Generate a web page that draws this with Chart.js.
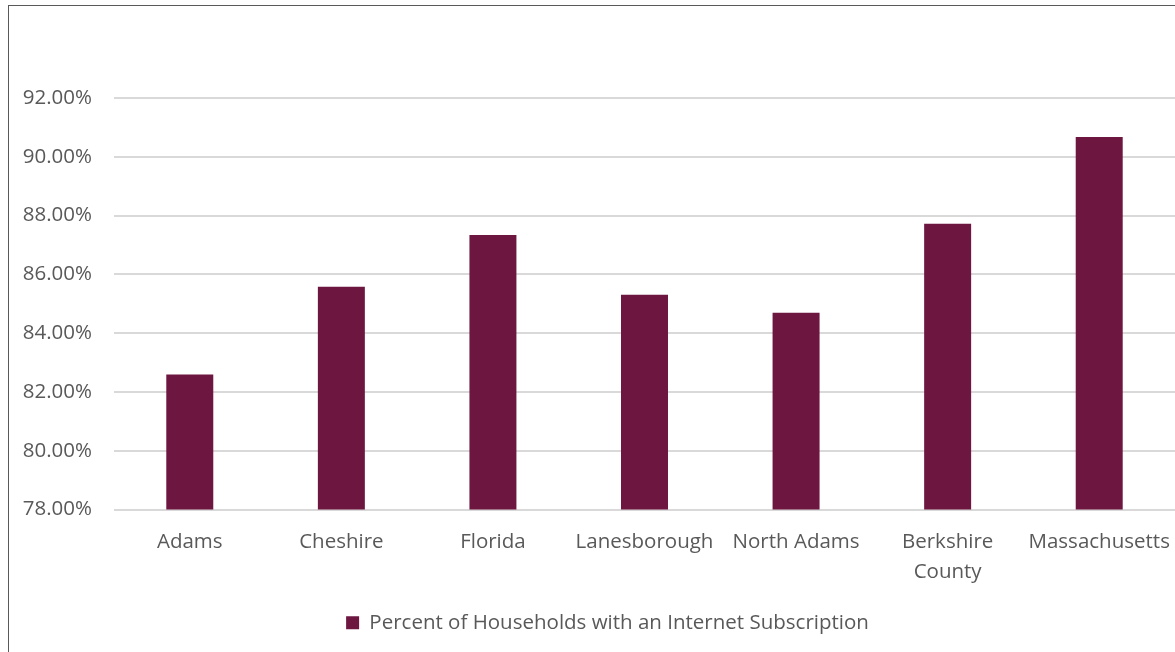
<!DOCTYPE html>
<html>
<head>
<meta charset="utf-8">
<script src="https://cdn.jsdelivr.net/npm/chart.js@4.4.0/dist/chart.umd.min.js"></script>
<style>
  html, body { margin: 0; padding: 0; background: #fff; overflow: hidden; }
  #wrap { position: relative; width: 1175px; height: 652px; }
  #frame { position: absolute; left: 8px; top: 5px; width: 1200px; height: 700px; border-left: 1px solid #595959; border-top: 1px solid #595959; }
  canvas { position: absolute; left: 0; top: 0; }
</style>
</head>
<body>
<div id="wrap">
  <div id="frame"></div>
  <canvas id="chart" width="1175" height="652"></canvas>
</div>
<script>
const places = ['Adams', 'Cheshire', 'Florida', 'Lanesborough', 'North Adams', ['Berkshire', 'County'], 'Massachusetts'];
const internetPct = [82.59, 85.58, 87.34, 85.31, 84.69, 87.72, 90.67];
const seriesName = 'Percent of Households with an Internet Subscription';
const yTicks = [78, 80, 82, 84, 86, 88, 90, 92];

const textColor = '#595959';
const barColor = '#6D1640';
const font = { family: '"Open Sans", sans-serif', size: 20.5 };

const chart = new Chart(document.getElementById('chart'), {
    type: 'bar',
    data: {
        labels: places,
        datasets: [{
            label: seriesName,
            data: internetPct,
            backgroundColor: barColor,
            borderWidth: 0,
            categoryPercentage: 1,
            barPercentage: 0.31
        }]
    },
    options: {
        responsive: false,
        animation: false,
        layout: { padding: { left: 0, right: 0, top: 98, bottom: 9 } },
        plugins: {
            tooltip: { enabled: false },
            legend: {
                position: 'bottom',
                labels: {
                    color: textColor,
                    font: font,
                    boxWidth: 13,
                    boxHeight: 13,
                    padding: 10
                }
            }
        },
        scales: {
            x: {
                grid: { display: false, drawTicks: false },
                border: { display: false },
                ticks: { color: textColor, font: { ...font, lineHeight: 1.45 }, padding: 18, maxRotation: 0, autoSkip: false },
                afterFit: s => {
                    s.height = 93;
                    // let the last label run past the plot edge instead of shrinking the plot
                    s.paddingLeft = 0;
                    s.paddingRight = 0;
                }
            },
            y: {
                min: 78,
                max: 92,
                afterBuildTicks: s => { s.ticks = yTicks.map(v => ({ value: v })); },
                grid: { color: '#D9D9D9', lineWidth: 2, drawTicks: false },
                border: { display: false },
                ticks: {
                    color: textColor,
                    font: font,
                    padding: 22,
                    callback: v => v.toFixed(2) + '%'
                },
                afterFit: s => { s.width = 114; }
            }
        }
    }
});

// nudge the legend a little right so it sits under the plot rather than the canvas middle
const legend = chart.legend;
const drawLegend = legend.draw.bind(legend);
legend.draw = function () {
    const ctx = chart.ctx;
    ctx.save();
    ctx.translate(20, 0);
    drawLegend();
    ctx.restore();
};
chart.draw();
</script>
</body>
</html>
